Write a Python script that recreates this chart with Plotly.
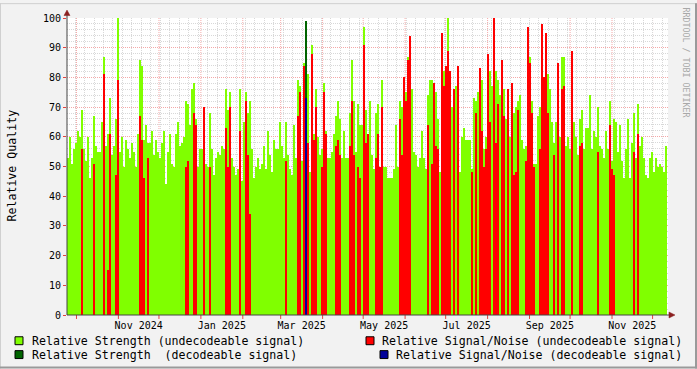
import pandas as pd
import plotly.graph_objects as go

# ---------------- data (one value per ~35.5 h step, starting 2024-09-24) ----------------
start = pd.Timestamp("2024-09-24")
step = pd.Timedelta(hours=35.5)

strength_undec = [
    53, 60, 51, 56, 58, 62, 60, 69, 56, 52,
    60, 46, 53, 67, 57, 55, 55, 65, 87, 57,
    61, 73, 54, 57, 66, 100, 55, 60, 50, 59,
    56, 53, 58, 55, 50, 61, 86, 84, 59, 64,
    58, 58, 62, 54, 59, 55, 53, 58, 62, 44,
    55, 61, 51, 50, 61, 65, 57, 58, 60, 72,
    71, 64, 76, 78, 66, 50, 56, 56, 70, 51,
    50, 68, 56, 47, 53, 55, 54, 57, 56, 76,
    69, 75, 53, 50, 47, 49, 76, 45, 65, 75,
    68, 72, 56, 46, 50, 53, 49, 51, 57, 49,
    62, 54, 48, 59, 56, 56, 65, 57, 53, 65,
    54, 49, 47, 64, 53, 79, 77, 52, 85, 52,
    81, 48, 91, 61, 76, 60, 54, 56, 78, 62,
    53, 53, 55, 61, 67, 72, 66, 53, 62, 53,
    53, 68, 86, 72, 55, 71, 64, 64, 97, 69,
    56, 72, 54, 49, 68, 71, 45, 79, 50, 50,
    46, 46, 46, 49, 64, 50, 72, 70, 78, 75,
    87, 60, 76, 55, 54, 50, 53, 62, 53, 49,
    74, 79, 79, 75, 75, 66, 48, 75, 82, 84,
    100, 78, 70, 62, 77, 73, 48, 60, 63, 59,
    59, 59, 49, 73, 72, 75, 73, 79, 56, 60,
    72, 82, 77, 80, 82, 79, 74, 67, 76, 66,
    60, 60, 66, 68, 70, 72, 74, 59, 56, 57,
    68, 87, 72, 51, 51, 67, 70, 64, 74, 70,
    81, 76, 65, 58, 65, 60, 60, 87, 87, 57,
    60, 56, 62, 65, 60, 54, 66, 69, 56, 63,
    63, 74, 56, 62, 60, 70, 57, 56, 53, 62,
    56, 72, 52, 66, 65, 55, 64, 52, 46, 56,
    66, 46, 58, 68, 53, 71, 57, 60, 53, 47,
    46, 53, 55, 48, 53, 50, 51, 50, 48, 57,
]

snr_undec = [
    0, 0, 0, 0, 0, 0, 0, 56, 0, 0,
    0, 0, 0, 51, 0, 0, 0, 0, 81, 0,
    15, 61, 0, 0, 47, 79, 0, 0, 0, 0,
    0, 0, 0, 0, 0, 0, 67, 59, 46, 0,
    53, 0, 0, 0, 0, 0, 0, 0, 0, 0,
    0, 0, 0, 0, 0, 0, 0, 0, 0, 50,
    52, 0, 0, 68, 64, 0, 0, 0, 70, 0,
    0, 50, 0, 0, 0, 0, 0, 0, 0, 63,
    50, 70, 0, 0, 0, 0, 62, 0, 0, 72,
    54, 34, 0, 0, 0, 0, 0, 0, 0, 0,
    0, 0, 0, 0, 0, 0, 0, 0, 0, 52,
    0, 0, 0, 0, 0, 67, 75, 0, 84, 0,
    58, 0, 88, 59, 70, 0, 0, 50, 75, 61,
    0, 0, 0, 0, 57, 59, 54, 0, 0, 0,
    0, 57, 72, 54, 0, 50, 46, 0, 91, 58,
    61, 0, 0, 0, 53, 61, 50, 70, 0, 0,
    0, 0, 0, 0, 0, 0, 66, 54, 80, 72,
    86, 94, 0, 0, 0, 0, 0, 0, 0, 0,
    64, 0, 51, 78, 57, 56, 0, 95, 77, 84,
    89, 82, 0, 76, 0, 84, 0, 0, 0, 0,
    0, 0, 48, 0, 68, 0, 83, 62, 50, 56,
    88, 65, 0, 100, 58, 71, 0, 86, 67, 0,
    76, 0, 78, 47, 48, 69, 0, 0, 0, 52,
    97, 85, 68, 50, 0, 0, 56, 98, 80, 95,
    68, 0, 0, 54, 0, 85, 0, 76, 77, 0,
    0, 0, 89, 0, 0, 0, 57, 58, 0, 0,
    0, 0, 0, 0, 0, 55, 0, 0, 0, 0,
    0, 64, 49, 47, 0, 0, 0, 0, 0, 0,
    0, 0, 0, 55, 0, 61, 0, 0, 0, 0,
    0, 0, 0, 0, 0, 0, 0, 0, 0, 0,
]

# decodeable signal: only one step carries values
dec_index = [119]
strength_dec = [99]
snr_dec = [73]

tick_months = ["2024-11", "2025-01", "2025-03", "2025-05", "2025-07", "2025-09", "2025-11"]
tick_labels = ["Nov 2024", "Jan 2025", "Mar 2025", "May 2025", "Jul 2025", "Sep 2025", "Nov 2025"]

legend_items = [
    ("Relative Strength (undecodeable signal)", "#80FF00"),
    ("Relative Strength  (decodeable signal)", "#006400"),
    ("Relative Signal/Noise (undecodeable signal)", "#FF0000"),
    ("Relative Signal/Noise (decodeable signal)", "#000099"),
]

# ---------------- geometry helpers ----------------
W, H = 697, 369
PL, PR, PT, PB = 67, 668, 15, 315
PX_PER_DAY = 1.3524


def px(xp):
    return (xp - PL) / (PR - PL)


def py(yp):
    return (PB - yp) / (PB - PT)


FONT = "DejaVu Sans Mono"

n = len(strength_undec)
xs = [start + step * (i + 0.5) for i in range(n)]
width_ms = step.total_seconds() * 1000
x_end = start + pd.Timedelta(days=(PR - PL) / PX_PER_DAY)


def nz(v):
    return [a if a else None for a in v]


fig = go.Figure()
fig.add_trace(go.Bar(x=xs, y=strength_undec, width=width_ms, marker_color="#80FF00",
                     marker_line_width=0, name=legend_items[0][0]))
fig.add_trace(go.Bar(x=[xs[i] for i in dec_index], y=strength_dec, width=width_ms,
                     marker_color="#006400", marker_line_width=0, name=legend_items[1][0]))
fig.add_trace(go.Bar(x=xs, y=nz(snr_undec), width=width_ms, marker_color="#FF0000",
                     marker_line_width=0, name=legend_items[2][0]))
fig.add_trace(go.Bar(x=[xs[i] for i in dec_index], y=snr_dec, width=width_ms,
                     marker_color="#000099", marker_line_width=0, name=legend_items[3][0]))

# tick positions: middle of each labelled month
tickvals = []
for m in tick_months:
    a = pd.Timestamp(m + "-01")
    b = a + pd.offsets.MonthBegin(1)
    tickvals.append(a + (b - a) / 2)

shapes = []
# monthly major grid + red tick marks
for m in pd.date_range("2024-10-01", "2025-12-01", freq="MS"):
    shapes.append(dict(type="line", xref="x", yref="paper", x0=m, x1=m, y0=0, y1=1,
                       line=dict(color="#F4A8A8", width=1, dash="1px,1px"), layer="below"))
    shapes.append(dict(type="line", xref="x", yref="paper", x0=m, x1=m, y0=py(315), y1=py(319),
                       line=dict(color="#E04040", width=1), layer="above"))

axis_col = "#444444"
arrow_col = "#8B2020"
# axis lines
shapes.append(dict(type="line", xref="paper", yref="paper", x0=px(67), x1=px(67), y0=py(315), y1=py(10),
                   line=dict(color=axis_col, width=1)))
shapes.append(dict(type="line", xref="paper", yref="paper", x0=px(67), x1=px(671), y0=py(315), y1=py(315),
                   line=dict(color=axis_col, width=1)))


def tri(points, color):
    d = "M " + " L ".join(f"{px(a):.5f},{py(b):.5f}" for a, b in points) + " Z"
    return dict(type="path", xref="paper", yref="paper", path=d, fillcolor=color,
                line=dict(color=color, width=0.5))


shapes.append(tri([(64, 12.5), (70, 12.5), (67, 7)], arrow_col))
shapes.append(tri([(669, 312), (669, 318), (675, 315)], arrow_col))

# 3-D frame
shapes.append(dict(type="line", xref="paper", yref="paper", x0=px(0), x1=px(697), y0=py(0.5), y1=py(0.5),
                   line=dict(color="#D0D0D0", width=1)))
shapes.append(dict(type="line", xref="paper", yref="paper", x0=px(0.5), x1=px(0.5), y0=py(0), y1=py(369),
                   line=dict(color="#D0D0D0", width=1)))
shapes.append(dict(type="line", xref="paper", yref="paper", x0=px(0), x1=px(697), y0=py(368), y1=py(368),
                   line=dict(color="#9A9A9A", width=2)))
shapes.append(dict(type="line", xref="paper", yref="paper", x0=px(696), x1=px(696), y0=py(0), y1=py(369),
                   line=dict(color="#9A9A9A", width=2)))

annotations = []
legend_pos = [(15, 30, 341), (15, 30, 355), (366, 380, 341), (380, 394, 355)]
for (label, color), (bx, tx, ty) in zip(legend_items, legend_pos):
    shapes.append(dict(type="rect", xref="paper", yref="paper", x0=px(bx), x1=px(bx + 8),
                       y0=py(ty - 4), y1=py(ty + 4), fillcolor=color,
                       line=dict(color="#000000", width=1)))
    annotations.append(dict(text=label, xref="paper", yref="paper", x=px(tx), y=py(ty),
                            xanchor="left", yanchor="middle", showarrow=False,
                            font=dict(family=FONT, size=11.6, color="#000000")))

annotations.append(dict(text="Relative Quality", xref="paper", yref="paper", x=px(12), y=py(164),
                        textangle=-90, xanchor="center", yanchor="middle", showarrow=False,
                        font=dict(family=FONT, size=11.6, color="#000000")))
annotations.append(dict(text="RRDTOOL / TOBI OETIKER", xref="paper", yref="paper", x=px(686), y=py(60),
                        textangle=90, xanchor="center", yanchor="middle", showarrow=False,
                        font=dict(family=FONT, size=8.3, color="#A8A8A8")))

fig.update_layout(
    width=W, height=H, autosize=False,
    margin=dict(l=PL, r=W - PR, t=PT, b=H - PB, pad=0),
    paper_bgcolor="#F2F2F2", plot_bgcolor="#FFFFFF",
    barmode="overlay", bargap=0, showlegend=False,
    font=dict(family=FONT, size=10, color="#000000"),
    shapes=shapes, annotations=annotations,
    xaxis=dict(type="date", range=[start, x_end], tickvals=tickvals, ticktext=tick_labels,
               ticks="", showgrid=False, zeroline=False, showline=False, ticklabelstandoff=3,
               tickfont=dict(family=FONT, size=10, color="#000000"),
               minor=dict(dtick=7 * 86400000, tick0="2024-09-30", showgrid=True,
                          gridcolor="#D8D8D8", griddash="1px,1px", gridwidth=1)),
    yaxis=dict(range=[0, 100], dtick=10, tick0=0, ticks="outside", ticklen=3, tickcolor="#E04040",
               showgrid=True, gridcolor="#F4A8A8", griddash="1px,1px", gridwidth=1,
               zeroline=False, showline=False,
               tickfont=dict(family=FONT, size=10, color="#000000"),
               minor=dict(dtick=2, showgrid=True, gridcolor="#D8D8D8", griddash="1px,1px", gridwidth=1)),
)

fig.write_html("out.html")
